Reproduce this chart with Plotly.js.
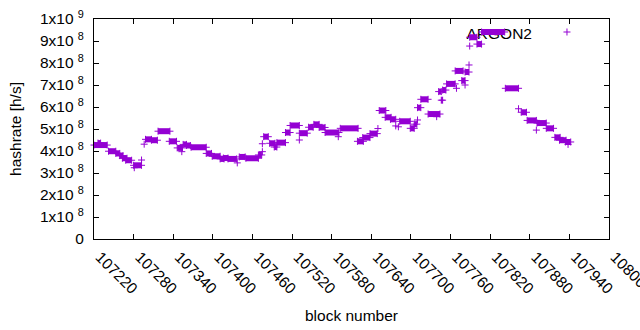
<!DOCTYPE html>
<html>
<head>
<meta charset="utf-8">
<script src="https://cdn.plot.ly/plotly-3.0.1.min.js"></script>
<style>html,body{margin:0;padding:0;background:#fff;}#chart{width:640px;height:330px;}</style>
</head>
<body>
<div id="chart"></div>
<script>
// Each entry: a run of consecutive blocks sharing the same hashrate estimate
const blockStart = [107220,107226,107242,107253,107259,107263,107268,107281,107280,107292,107296,107298,107307,107317,107334,107346,107353,107355,107360,107367,107390,107399,107411,107416,107423,107437,107440,107450,107469,107475,107475,107477,107486,107493,107497,107510,107517,107531,107531,107545,107553,107561,107570,107590,107593,107619,107627,107638,107650,107652,107661,107669,107677,107681,107683,107699,107705,107710,107710,107715,107726,107739,107742,107746,107748,107754,107769,107767,107777,107782,107782,107788,107789,107789,107800,107807,107843,107863,107867,107876,107890,107891,107905,107918,107925,107934,107938];
const blockEnd   = [107240,107230,107253,107259,107264,107270,107277,107281,107292,107292,107296,107307,107316,107335,107345,107354,107353,107360,107366,107390,107398,107411,107417,107423,107436,107437,107449,107469,107474,107475,107475,107484,107494,107497,107510,107517,107531,107531,107543,107552,107561,107570,107591,107590,107620,107628,107638,107649,107650,107662,107670,107677,107677,107681,107699,107705,107709,107710,107715,107726,107744,107739,107746,107748,107753,107767,107769,107779,107782,107782,107788,107788,107789,107800,107807,107842,107863,107863,107875,107890,107890,107905,107916,107926,107935,107942,107938];
const hashrate   = [4.27e8,4.36e8,3.99e8,3.89e8,3.79e8,3.67e8,3.58e8,3.24e8,3.35e8,3.59e8,4.31e8,4.53e8,4.49e8,4.90e8,4.44e8,4.14e8,3.97e8,4.30e8,4.25e8,4.17e8,3.89e8,3.76e8,3.64e8,3.68e8,3.64e8,3.46e8,3.73e8,3.67e8,3.82e8,3.97e8,4.33e8,4.65e8,4.35e8,4.18e8,4.38e8,4.84e8,5.16e8,4.50e8,4.81e8,5.08e8,5.21e8,5.07e8,4.84e8,4.65e8,5.03e8,4.44e8,4.61e8,4.79e8,5.02e8,5.84e8,5.53e8,5.44e8,5.14e8,5.10e8,5.35e8,5.03e8,5.22e8,5.41e8,5.97e8,6.35e8,5.68e8,5.56e8,6.70e8,6.31e8,6.77e8,7.05e8,6.85e8,7.64e8,7.20e8,7.00e8,7.59e8,7.91e8,8.77e8,9.17e8,8.86e8,9.41e8,6.85e8,5.92e8,5.76e8,5.39e8,4.95e8,5.27e8,5.03e8,4.62e8,4.49e8,4.41e8,4.30e8];

const seriesName = 'ARGON2';
const xTickVals = [107220,107280,107340,107400,107460,107520,107580,107640,107700,107760,107820,107880,107940,108000];
const xTickText = ['107220','107280','107340','107400','107460','107520','107580','107640','107700','107760','107820','107880','107940','108000'];
const yTickVals = [0,1e8,2e8,3e8,4e8,5e8,6e8,7e8,8e8,9e8,1e9];
const yTickText = ['0','1x10 <sup>8</sup>','2x10 <sup>8</sup>','3x10 <sup>8</sup>','4x10 <sup>8</sup>','5x10 <sup>8</sup>','6x10 <sup>8</sup>','7x10 <sup>8</sup>','8x10 <sup>8</sup>','9x10 <sup>8</sup>','1x10 <sup>9</sup>'];
const xRange = [107220, 108000];
const yRange = [0, 1e9];

const COLOR = '#9400d3';
const FONT = 'Liberation Sans, Arial, sans-serif';

// runs -> thick horizontal bands (overlapping "+" points), endpoints -> "+" markers
const bx = [], by = [], px = [], py = [];
for (let i = 0; i < blockStart.length; i++) {
  if (blockEnd[i] > blockStart[i]) {
    bx.push(blockStart[i], blockEnd[i], null);
    by.push(hashrate[i], hashrate[i], null);
    px.push(blockStart[i], blockEnd[i]);
    py.push(hashrate[i], hashrate[i]);
  } else {
    px.push(blockStart[i]);
    py.push(hashrate[i]);
  }
}

const traces = [
  {x: bx, y: by, mode: 'lines', line: {color: COLOR, width: 6}, connectgaps: false, hoverinfo: 'skip', showlegend: false},
  {x: px, y: py, mode: 'markers', name: seriesName, cliponaxis: false,
   marker: {symbol: 'cross-thin', size: 5, color: COLOR, line: {color: COLOR, width: 1}}, showlegend: false}
];

const axisCommon = {
  showline: true, linecolor: '#000', linewidth: 1, mirror: 'ticks',
  ticks: 'inside', ticklen: 5, tickwidth: 1, tickcolor: '#000',
  showgrid: false, zeroline: false,
  tickfont: {family: FONT, size: 15.5, color: '#000'}
};

const layout = {
  width: 640, height: 330,
  margin: {l: 94, r: 31, t: 19, b: 91},
  paper_bgcolor: '#fff', plot_bgcolor: '#fff',
  font: {family: FONT, size: 15.5, color: '#000'},
  showlegend: false,
  xaxis: Object.assign({}, axisCommon, {
    range: xRange, tickmode: 'array', tickvals: xTickVals, ticktext: xTickText,
    tickangle: 45, ticklabelstandoff: 2, ticklabelshift: 6, ticklabeloverflow: 'allow',
    title: {text: 'block number', font: {family: FONT, size: 15.5, color: '#000'}, standoff: 13}
  }),
  yaxis: Object.assign({}, axisCommon, {
    range: yRange, tickmode: 'array', tickvals: yTickVals, ticktext: yTickText,
    ticklabelstandoff: 6,
    title: {text: 'hashrate [h/s]', font: {family: FONT, size: 15.5, color: '#000'}, standoff: 14}
  }),
  shapes: [
    {type: 'rect', xref: 'paper', yref: 'paper', x0: 0.5, x1: 0.8563, y0: 0.905, y1: 0.977,
     line: {width: 0}, fillcolor: 'rgba(0,0,0,0)', layer: 'below',
     label: {text: seriesName, textposition: 'middle right', padding: 0, font: {family: FONT, size: 15.5, color: '#000'}}},
    {type: 'line', xref: 'paper', yref: 'paper', xsizemode: 'pixel', ysizemode: 'pixel',
     xanchor: 0.9184, yanchor: 0.9409, x0: -3.5, x1: 3.5, y0: 0, y1: 0, line: {color: COLOR, width: 1}},
    {type: 'line', xref: 'paper', yref: 'paper', xsizemode: 'pixel', ysizemode: 'pixel',
     xanchor: 0.9184, yanchor: 0.9409, x0: 0, x1: 0, y0: -3.5, y1: 3.5, line: {color: COLOR, width: 1}}
  ]
};

Plotly.newPlot('chart', traces, layout, {displayModeBar: false, staticPlot: true});
</script>
</body>
</html>
